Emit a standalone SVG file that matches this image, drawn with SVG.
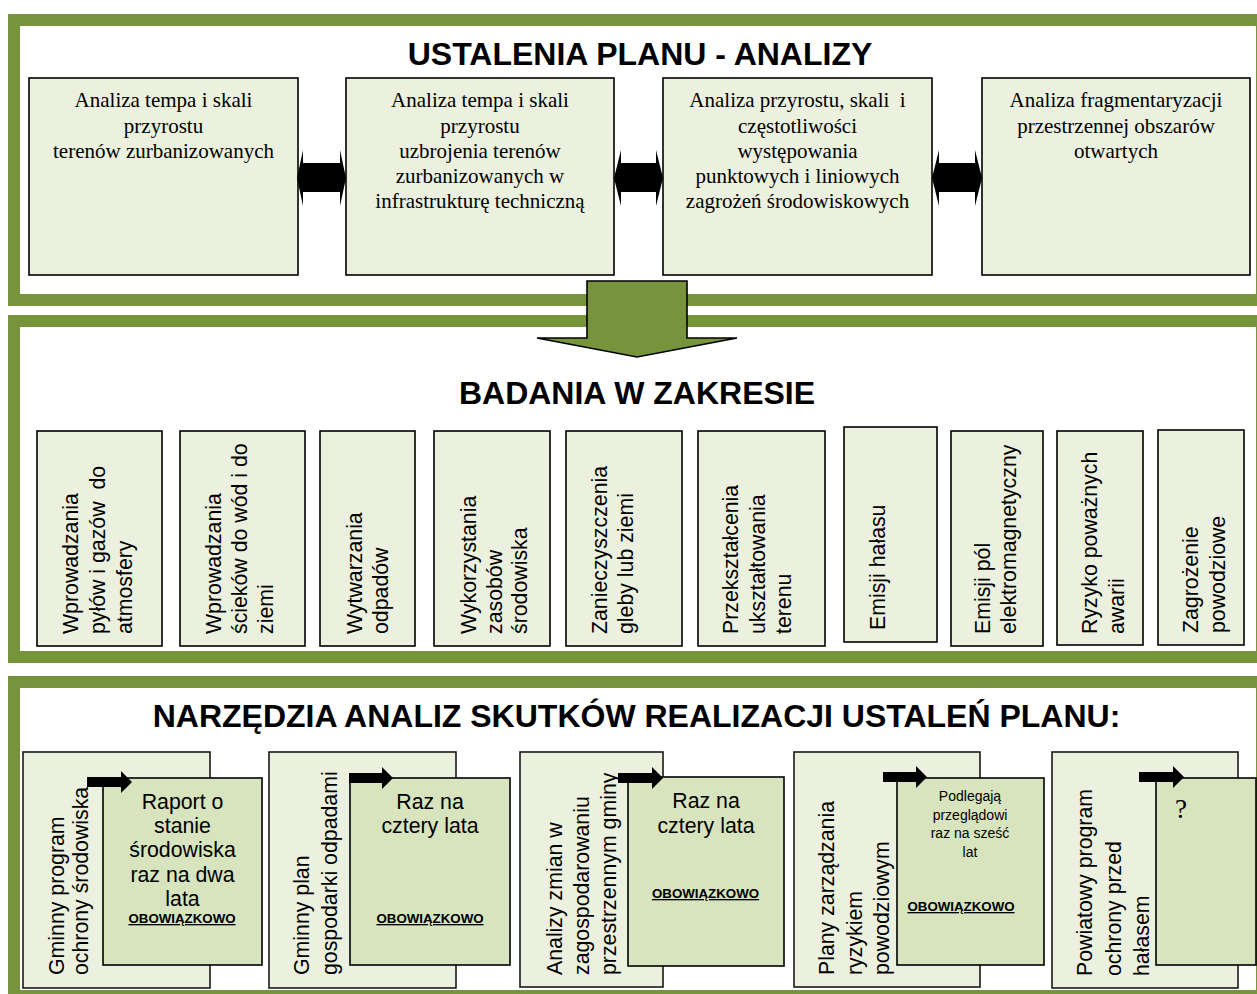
<svg xmlns="http://www.w3.org/2000/svg" width="1257" height="994" viewBox="0 0 1257 994">
<style>
.frame{fill:#ffffff;stroke:#77933C;stroke-width:12}
.box{fill:#EBF1DE;stroke:#000;stroke-width:1.6}
.obox{fill:#EBF1DE;stroke:#1a1a1a;stroke-width:1.6}
.ibox{fill:#D7E4BD;stroke:#000;stroke-width:1.6}
.title{font-family:"Liberation Sans",Arial,sans-serif;font-weight:bold;font-size:32px;fill:#000;text-anchor:middle}
.serif{font-family:"Liberation Serif","Times New Roman",serif;font-size:21px;fill:#000;text-anchor:middle}
.q{font-family:"Liberation Serif","Times New Roman",serif;font-size:27px;fill:#000}
.sans{font-family:"Liberation Sans",Arial,sans-serif;font-size:21.3px;fill:#000}
.mid{text-anchor:middle}
.small{font-family:"Liberation Sans",Arial,sans-serif;font-size:14px;fill:#000;text-anchor:middle}
.obw{font-family:"Liberation Sans",Arial,sans-serif;font-size:13.3px;font-weight:bold;fill:#000;text-anchor:middle;text-decoration:underline}
.dbl{fill:#000}
.garrow{fill:#77933C;stroke:#000;stroke-width:1.6;stroke-linejoin:miter}
</style>

<!-- Section frames -->
<g id="section1">
<rect class="frame" x="14" y="20" width="1248" height="280"/>
<text class="title" x="640" y="65">USTALENIA PLANU - ANALIZY</text>
</g>
<g id="section2">
<rect class="frame" x="14" y="321" width="1248" height="336"/>
<text class="title" x="637" y="404">BADANIA W ZAKRESIE</text>
</g>
<g id="section3">
<rect class="frame" x="14" y="682" width="1248" height="314"/>
<text class="title" x="636.5" y="727">NARZĘDZIA ANALIZ SKUTKÓW REALIZACJI USTALEŃ PLANU:</text>
</g>

<!-- Top analysis boxes -->
<g id="a1">
<rect class="box" x="29" y="78" width="269" height="197"/>
<text class="serif" x="163.5" y="107">Analiza tempa i skali</text>
<text class="serif" x="163.5" y="132.5">przyrostu</text>
<text class="serif" x="163.5" y="158">terenów zurbanizowanych</text>
</g>
<g id="a2">
<rect class="box" x="346" y="78" width="268" height="197"/>
<text class="serif" x="480" y="107">Analiza tempa i skali</text>
<text class="serif" x="480" y="132.5">przyrostu</text>
<text class="serif" x="480" y="158">uzbrojenia terenów</text>
<text class="serif" x="480" y="183">zurbanizowanych w</text>
<text class="serif" x="480" y="208">infrastrukturę techniczną</text>
</g>
<g id="a3">
<rect class="box" x="663" y="78" width="269" height="197"/>
<text class="serif" x="797.5" y="107" xml:space="preserve">Analiza przyrostu, skali  i</text>
<text class="serif" x="797.5" y="132.5">częstotliwości</text>
<text class="serif" x="797.5" y="158">występowania</text>
<text class="serif" x="797.5" y="183">punktowych i liniowych</text>
<text class="serif" x="797.5" y="208">zagrożeń środowiskowych</text>
</g>
<g id="a4">
<rect class="box" x="982" y="78" width="268" height="197"/>
<text class="serif" x="1116" y="107">Analiza fragmentaryzacji</text>
<text class="serif" x="1116" y="132.5">przestrzennej obszarów</text>
<text class="serif" x="1116" y="158">otwartych</text>
</g>

<!-- Research boxes -->
<g id="b1">
<rect class="box" x="37" y="431" width="125" height="215"/>
<text class="sans" transform="translate(78,634) rotate(-90)">Wprowadzania</text>
<text class="sans" transform="translate(105,634) rotate(-90)" xml:space="preserve">pyłów i gazów  do</text>
<text class="sans" transform="translate(131.5,634) rotate(-90)">atmosfery</text>
</g>
<g id="b2">
<rect class="box" x="180" y="431" width="125" height="215"/>
<text class="sans" transform="translate(221,634) rotate(-90)">Wprowadzania</text>
<text class="sans" transform="translate(247,634) rotate(-90)">ścieków do wód i do</text>
<text class="sans" transform="translate(273,634) rotate(-90)">ziemi</text>
</g>
<g id="b3">
<rect class="box" x="320" y="431" width="95" height="215"/>
<text class="sans" transform="translate(361.5,634) rotate(-90)">Wytwarzania</text>
<text class="sans" transform="translate(387.6,634) rotate(-90)">odpadów</text>
</g>
<g id="b4">
<rect class="box" x="434" y="431" width="116" height="215"/>
<text class="sans" transform="translate(476,634) rotate(-90)">Wykorzystania</text>
<text class="sans" transform="translate(502,634) rotate(-90)">zasobów</text>
<text class="sans" transform="translate(527,634) rotate(-90)">środowiska</text>
</g>
<g id="b5">
<rect class="box" x="566" y="431" width="116" height="215"/>
<text class="sans" transform="translate(606.6,634) rotate(-90)">Zanieczyszczenia</text>
<text class="sans" transform="translate(633,634) rotate(-90)">gleby lub ziemi</text>
</g>
<g id="b6">
<rect class="box" x="698" y="431" width="127" height="215"/>
<text class="sans" transform="translate(737.6,634) rotate(-90)">Przekształcenia</text>
<text class="sans" transform="translate(765,634) rotate(-90)">ukształtowania</text>
<text class="sans" transform="translate(790.5,634) rotate(-90)">terenu</text>
</g>
<g id="b7">
<rect class="box" x="844" y="427" width="93" height="215"/>
<text class="sans" transform="translate(884.6,630) rotate(-90)">Emisji hałasu</text>
</g>
<g id="b8">
<rect class="box" x="951" y="431" width="92" height="215"/>
<text class="sans" transform="translate(989.5,634) rotate(-90)">Emisji pól</text>
<text class="sans" transform="translate(1016,634) rotate(-90)">elektromagnetyczny</text>
</g>
<g id="b9">
<rect class="box" x="1057" y="431" width="86" height="214"/>
<text class="sans" transform="translate(1097,634) rotate(-90)">Ryzyko poważnych</text>
<text class="sans" transform="translate(1123.5,634) rotate(-90)">awarii</text>
</g>
<g id="b10">
<rect class="box" x="1158" y="430" width="86" height="215"/>
<text class="sans" transform="translate(1198,633) rotate(-90)">Zagrożenie</text>
<text class="sans" transform="translate(1225,633) rotate(-90)">powodziowe</text>
</g>

<!-- Tools -->
<g id="t1">
<rect class="obox" x="23" y="752" width="187" height="236"/>
<text class="sans" transform="translate(63.8,975) rotate(-90)">Gminny program</text>
<text class="sans" transform="translate(88.2,975) rotate(-90)">ochrony środowiska</text>
</g>
<g id="t1r">
<rect class="ibox" x="103" y="778" width="159" height="187"/>
<text class="sans mid" x="182.5" y="809">Raport o</text>
<text class="sans mid" x="182.5" y="833">stanie</text>
<text class="sans mid" x="182.5" y="857">środowiska</text>
<text class="sans mid" x="182.5" y="882">raz na dwa</text>
<text class="sans mid" x="182.5" y="906">lata</text>
<text class="obw" x="182" y="923">OBOWIĄZKOWO</text>
</g>
<g id="t2">
<rect class="obox" x="269" y="752" width="187" height="236"/>
<text class="sans" transform="translate(308.8,975) rotate(-90)">Gminny plan</text>
<text class="sans" transform="translate(337.2,975) rotate(-90)">gospodarki odpadami</text>
</g>
<g id="t2r">
<rect class="ibox" x="350" y="778" width="160" height="187"/>
<text class="sans mid" x="430" y="809">Raz na</text>
<text class="sans mid" x="430" y="833">cztery lata</text>
<text class="obw" x="430" y="923">OBOWIĄZKOWO</text>
</g>
<g id="t3">
<rect class="obox" x="520" y="752" width="143" height="235"/>
<text class="sans" transform="translate(562.2,975) rotate(-90)">Analizy zmian w</text>
<text class="sans" transform="translate(588.8,975) rotate(-90)">zagospodarowaniu</text>
<text class="sans" transform="translate(615.5,975) rotate(-90)">przestrzennym gminy</text>
</g>
<g id="t3r">
<rect class="ibox" x="628" y="777" width="156" height="189"/>
<text class="sans mid" x="706" y="808">Raz na</text>
<text class="sans mid" x="706" y="833">cztery lata</text>
<text class="obw" x="705.5" y="898">OBOWIĄZKOWO</text>
</g>
<g id="t4">
<rect class="obox" x="794" y="752" width="186" height="235"/>
<text class="sans" transform="translate(833.8,975) rotate(-90)">Plany zarządzania</text>
<text class="sans" transform="translate(862.2,975) rotate(-90)">ryzykiem</text>
<text class="sans" transform="translate(888.8,975) rotate(-90)">powodziowym</text>
</g>
<g id="t4r">
<rect class="ibox" x="897" y="778" width="147" height="187"/>
<text class="small" x="970" y="801">Podlegają</text>
<text class="small" x="970" y="819.5">przeglądowi</text>
<text class="small" x="970" y="838">raz na sześć</text>
<text class="small" x="970" y="857">lat</text>
<text class="obw" x="961" y="911">OBOWIĄZKOWO</text>
</g>
<g id="t5">
<rect class="obox" x="1052" y="752" width="186" height="236"/>
<text class="sans" transform="translate(1092.2,976) rotate(-90)">Powiatowy program</text>
<text class="sans" transform="translate(1120.5,976) rotate(-90)">ochrony przed</text>
<text class="sans" transform="translate(1148.8,976) rotate(-90)">hałasem</text>
</g>
<g id="t5r">
<rect class="ibox" x="1156" y="778" width="100" height="187"/>
<text class="q" x="1175" y="818">?</text>
</g>

<!-- Connectors -->
<g id="connectors">
<polygon class="dbl" points="297,178 303,150 303,163 340,163 340,150 346,178 340,206 340,192 303,192 303,206"/>
<polygon class="dbl" points="614,178 621,150 621,163 656,163 656,150 663,178 656,206 656,192 621,192 621,206"/>
<polygon class="dbl" points="932,178 939,150 939,163 975,163 975,150 982,178 975,206 975,192 939,192 939,206"/>
<polygon class="garrow" points="587,281 687,281 687,338 737,338 637,357 537,338 587,338"/>
<polygon class="dbl" points="87,777 121,777 121,771 132,782 121,793 121,787 87,787"/>
<polygon class="dbl" points="349,773 382,773 382,767 393,778 382,789 382,783 349,783"/>
<polygon class="dbl" points="618,773 652,773 652,767 663,778 652,789 652,783 618,783"/>
<polygon class="dbl" points="883,772 916,772 916,766 927,777 916,788 916,782 883,782"/>
<polygon class="dbl" points="1139,772 1173,772 1173,766 1184,777 1173,788 1173,782 1139,782"/>
</g>
</svg>
